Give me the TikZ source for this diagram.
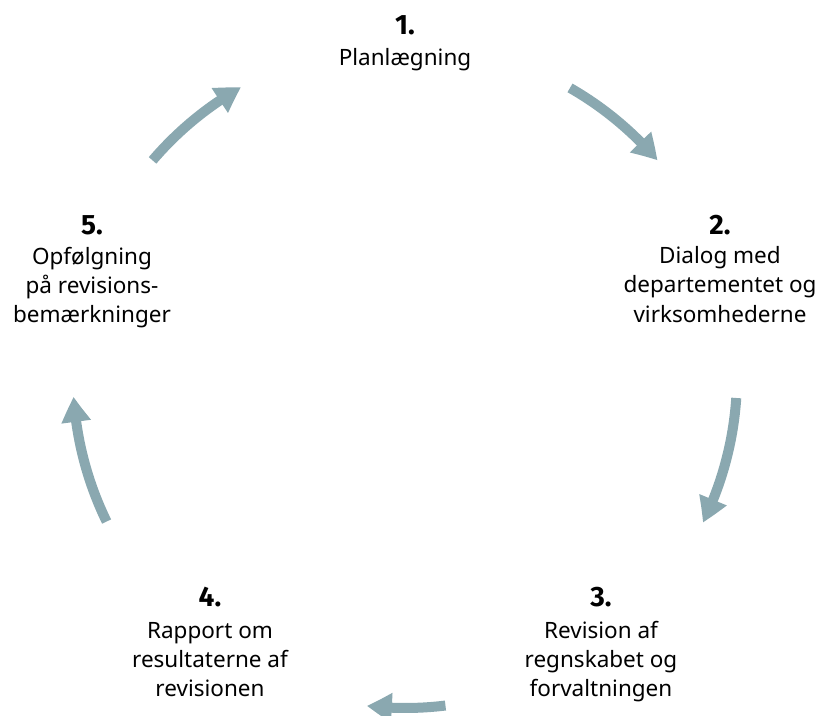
\documentclass[tikz,border=0pt]{standalone}
\usepackage{fontspec}
\setmainfont{Noto Sans}
\newfontfamily\numfont{Fira Sans}
\usetikzlibrary{arrows.meta,bending}
\definecolor{arrcol}{HTML}{8AA8B0}
\begin{document}
\begin{tikzpicture}[x=1pt,y=1pt,
  cyc/.style={draw=arrcol,line width=10pt,
    -{Triangle[length=25pt,width=28pt,bend]}},
  num/.style={anchor=base,inner sep=0pt,font=\numfont\fontsize{28}{30}\selectfont\bfseries},
  lbl/.style={anchor=base,inner sep=0pt,font=\fontsize{22.5}{29.5}\selectfont}]
\useasboundingbox (0,0) rectangle (824,715);
\coordinate (c) at (405,339);
% arrows
\draw[cyc] ([shift={(60.2:332)}]c) arc[start angle=60.2,end angle=40.5,radius=332];
\draw[cyc] ([shift={(-3.8:332)}]c) arc[start angle=-3.8,end angle=-26.2,radius=332];
\draw[cyc] ([shift={(-83:332)}]c) arc[start angle=-83,end angle=-96.6,radius=332];
\draw[cyc] ([shift={(206:332)}]c) arc[start angle=206,end angle=183.6,radius=332];
\draw[cyc] ([shift={(139.5:332)}]c) arc[start angle=139.5,end angle=119.6,radius=332];
% 1
\node[num] (n1) at (405,680) {1.};
\node[lbl] (t1a) at (405,649) {Planlægning};
% 2
\node[num] (n2) at (720,480) {2.};
\node[lbl] (t2a) at (720,451) {Dialog med};
\node[lbl] (t2b) at (720,422) {departementet og};
\node[lbl] (t2c) at (720,392) {virksomhederne};
% 3
\node[num] (n3) at (601,109) {3.};
\node[lbl] (t3a) at (601,77) {Revision af};
\node[lbl] (t3b) at (601,48) {regnskabet og};
\node[lbl] (t3c) at (601,19) {forvaltningen};
% 4
\node[num] (n4) at (210,109) {4.};
\node[lbl] (t4a) at (210,77) {Rapport om};
\node[lbl] (t4b) at (210,48) {resultaterne af};
\node[lbl] (t4c) at (210,19) {revisionen};
% 5
\node[num] (n5) at (92,480) {5.};
\node[lbl] (t5a) at (92,450) {Opfølgning};
\node[lbl] (t5b) at (92,421) {på revisions-};
\node[lbl] (t5c) at (92,392) {bemærkninger};
\end{tikzpicture}
\end{document}
